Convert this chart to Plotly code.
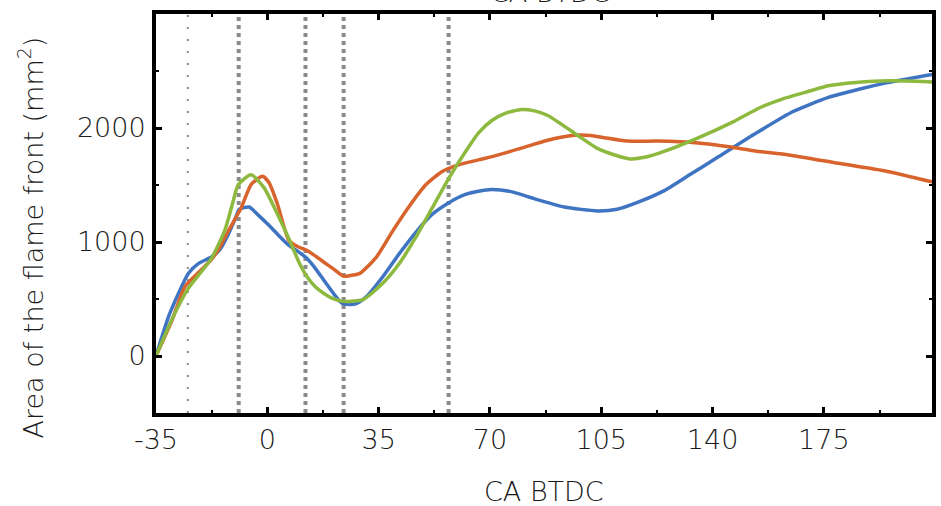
import plotly.graph_objects as go

# ---- data ----
blue_x = [-35, -31, -27.9, -24.8, -21.7, -17.6, -15, -12.4, -10, -8.8, -5.7, -3, 0.1, 3.5, 6.8, 9.5, 12, 14.8, 17.7,
          20.5, 23.4, 26, 28, 31.2, 36.3, 41.5, 46.7, 51.9, 57.1, 62.3, 66.4, 70.6, 77, 83, 93.4, 103.8, 110, 116.2,
          124.5, 132.8, 141.1, 153.5, 165, 176.4, 186, 195, 209]
blue_y = [0, 349, 551, 725, 811, 868, 930, 1060, 1210, 1287, 1307, 1240, 1157, 1060, 970, 920, 868, 780, 667,
          560, 465, 452, 460, 522, 695, 898, 1085, 1244, 1345, 1417, 1446, 1460, 1440, 1388, 1307, 1273, 1287, 1345,
          1446, 1590, 1734, 1951, 2140, 2268, 2340, 2398, 2470]

orange_x = [-35, -30, -25.9, -21, -17.6, -15, -12.4, -8.2, -5.1, -1.5, 0.6, 3.2, 6.8, 9.5, 12.5, 17.7, 21, 23.9, 26,
            29.1, 34.3, 39.5, 44.7, 49.9, 55, 60.2, 66.4, 72.7, 83, 90, 96.5, 101.7, 106, 113.1, 122.4, 129.7, 137,
            145.3, 153.5, 163.9, 179.5, 195, 209]
orange_y = [0, 310, 609, 750, 845, 950, 1090, 1301, 1504, 1576, 1518, 1331, 1013, 960, 926, 825, 760, 701, 705,
            725, 868, 1100, 1316, 1504, 1619, 1677, 1720, 1764, 1850, 1905, 1937, 1935, 1915, 1885, 1885, 1879, 1865,
            1835, 1798, 1764, 1691, 1619, 1527]

green_x = [-35, -30, -24.8, -21, -17.6, -13.4, -11, -9.1, -5.1, -1, 3.2, 6.8, 10, 12.5, 15, 17.7, 20.5, 23.9, 26, 30.1,
           36.3, 41.5, 46.7, 51.9, 57.1, 62.3, 66.5, 70.6, 75, 79.9, 84, 88.2, 97.5, 103.8, 109, 114.1, 119, 124.5,
           134.9, 146.3, 155, 161.9, 170, 176.4, 185, 193, 201, 209]
green_y = [0, 320, 595, 730, 854, 1100, 1330, 1504, 1590, 1475, 1244, 1028, 820, 695, 610, 551, 505, 479, 479, 494,
           638, 811, 1042, 1301, 1561, 1792, 1960, 2066, 2130, 2162, 2150, 2110, 1937, 1821, 1765, 1729, 1745, 1792,
           1907, 2052, 2180, 2254, 2320, 2370, 2400, 2413, 2412, 2404]

markers_thick = [-9, 12, 24, 57]
marker_thin = [-25]

x_ticks = [-35, 0, 35, 70, 105, 140, 175]
x_minor = [-17.5, 17.5, 52.5, 87.5, 122.5, 157.5, 192.5]
y_ticks = [0, 1000, 2000]
y_minor = [500, 1500, 2500]

x_title = "CA BTDC"
y_title = "Area of the flame front (mm<sup>2</sup>)"

FONT = "DejaVu Sans"
TXT = "#1a1a1a"
W, H = 941, 506
ML, MR, MT, MB = 156, 5, 14, 93

fig = go.Figure()

for xs, ys, col in [(blue_x, blue_y, "#3f74c2"), (orange_x, orange_y, "#d8632c"), (green_x, green_y, "#8cb93e")]:
    fig.add_trace(go.Scatter(x=xs, y=ys, mode="lines",
                             line=dict(color=col, width=3.5, shape="spline", smoothing=0.6),
                             showlegend=False, hoverinfo="skip"))

for xv in markers_thick:
    fig.add_shape(type="line", xref="x", yref="paper", x0=xv, x1=xv, y0=0, y1=1,
                  line=dict(color="#8a8a8a", width=4, dash="dot"), layer="below")
for xv in marker_thin:
    fig.add_shape(type="line", xref="x", yref="paper", x0=xv, x1=xv, y0=0, y1=1,
                  line=dict(color="#8a8a8a", width=2, dash="2px,10px"), layer="below")

axis_common = dict(showline=True, linewidth=4, linecolor="black", mirror="ticks",
                   ticks="inside", ticklen=6, tickwidth=3, tickcolor="black",
                   showgrid=False, zeroline=False,
                   tickfont=dict(family=FONT, size=27, color=TXT, weight=300))

fig.update_xaxes(range=[-35, 209], tickmode="array", tickvals=x_ticks,
                 ticktext=[str(v) for v in x_ticks],
                 minor=dict(ticks="inside", ticklen=3, tickwidth=2, tickcolor="black", tickvals=x_minor),
                 **axis_common)
fig.update_yaxes(range=[-500, 3000], tickmode="array", tickvals=y_ticks,
                 ticktext=[str(v) for v in y_ticks],
                 minor=dict(ticks="inside", ticklen=3, tickwidth=2, tickcolor="black", tickvals=y_minor),
                 ticklabelstandoff=1,
                 **axis_common)

pw = W - ML - MR
fig.add_annotation(text=x_title, xref="paper", yref="paper", x=(546 - ML) / pw, y=0,
                   yanchor="middle", yshift=-(491 - (H - MB)), showarrow=False,
                   font=dict(family=FONT, size=27, color=TXT, weight=300))
fig.add_annotation(text=x_title, xref="paper", yref="paper", x=(552 - ML) / pw, y=1,
                   yanchor="bottom", yshift=4, showarrow=False,
                   font=dict(family=FONT, size=27, color=TXT, weight=300))
fig.add_annotation(text=y_title, xref="paper", yref="paper", x=0, xanchor="center", xshift=-(ML - 31),
                   y=0.5, yanchor="middle", yshift=(213 - 237), textangle=-90, showarrow=False,
                   font=dict(family=FONT, size=27, color=TXT, weight=300))

fig.update_layout(width=W, height=H,
                  margin=dict(l=ML, r=MR, t=MT, b=MB),
                  plot_bgcolor="white", paper_bgcolor="white",
                  showlegend=False)

fig.write_html("out.html", config={"displayModeBar": False},
               post_script="document.body.style.margin='0px';")
